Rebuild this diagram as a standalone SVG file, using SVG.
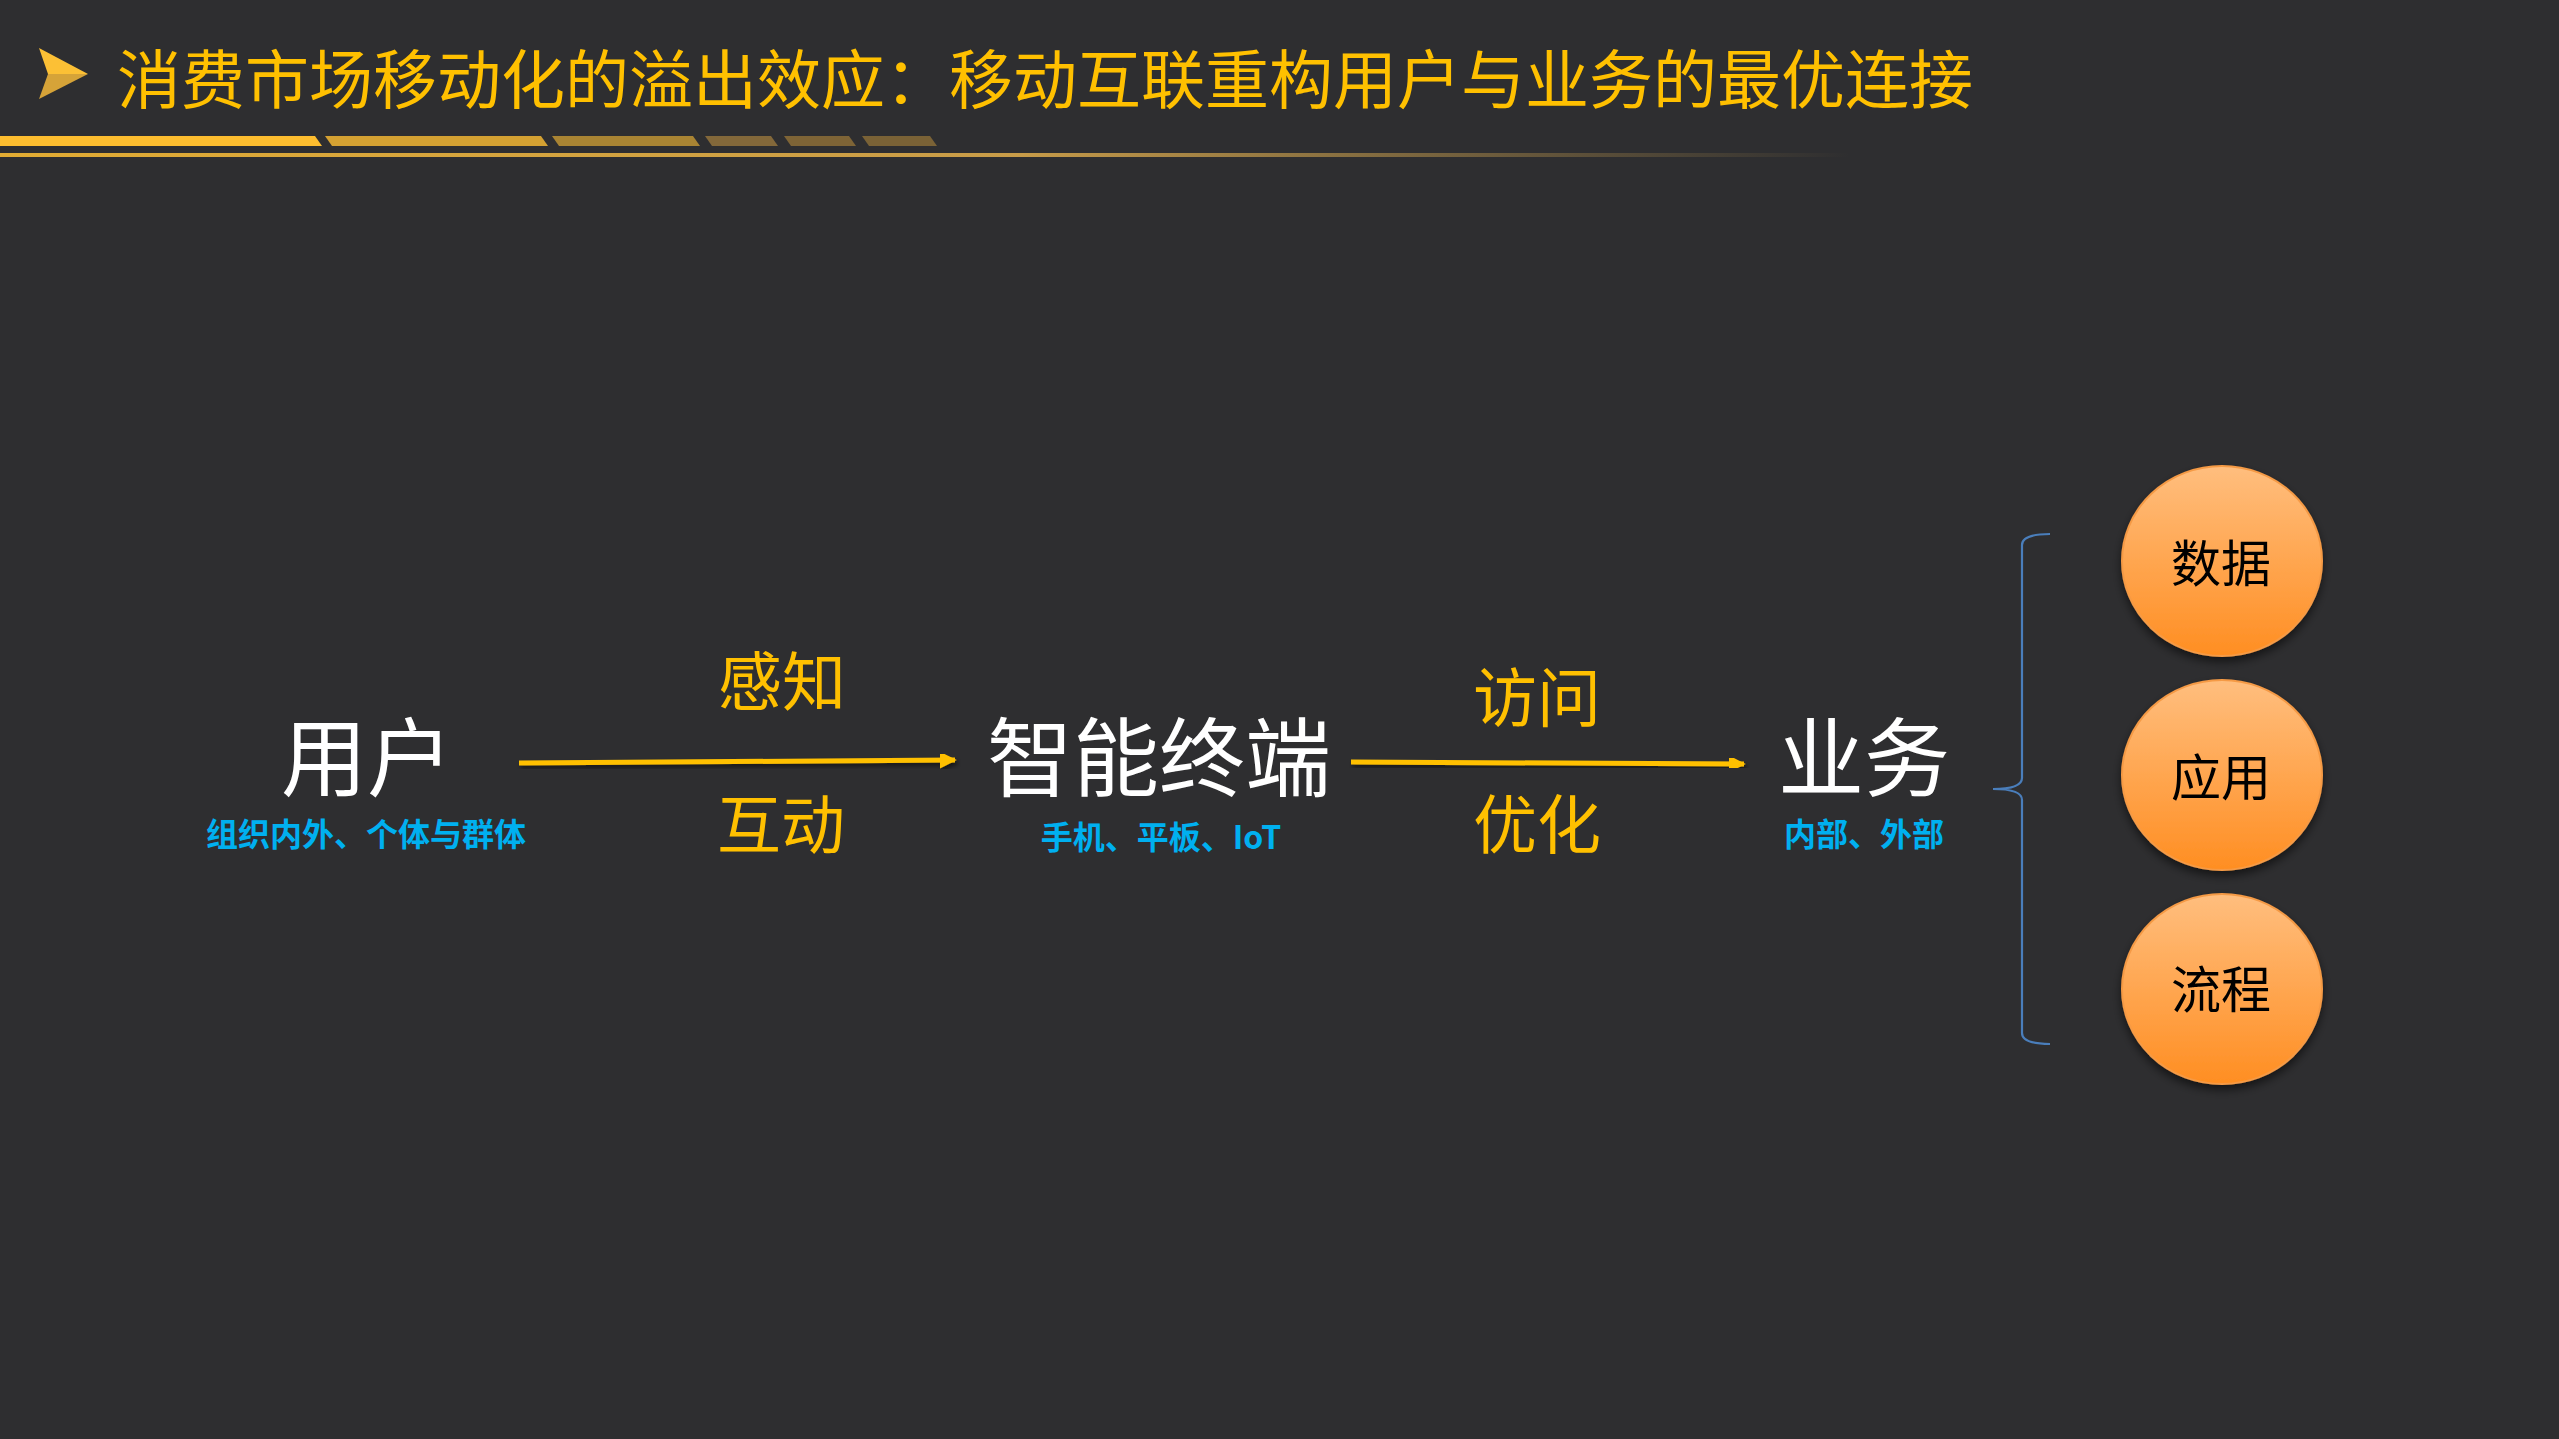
<svg xmlns="http://www.w3.org/2000/svg" width="2559" height="1439" viewBox="0 0 2559 1439">
<style>
.title{font-family:"Noto Sans CJK SC","Liberation Sans",sans-serif;font-size:64px;fill:#FFC000;}
.main{font-family:"Noto Sans CJK SC","Liberation Sans",sans-serif;font-size:86px;fill:#FFFFFF;text-anchor:middle;}
.sub{font-family:"Noto Sans CJK SC","Liberation Sans",sans-serif;font-size:32px;font-weight:bold;fill:#00B0F0;text-anchor:middle;}
.lbl{font-family:"Noto Sans CJK SC","Liberation Sans",sans-serif;font-size:64px;fill:#FFC000;text-anchor:middle;}
.ctext{font-family:"Noto Sans CJK SC","Liberation Sans",sans-serif;font-size:50px;fill:#000000;text-anchor:middle;}
.conn{stroke:#FFC000;stroke-width:5;fill:none;marker-end:url(#ah);}
.ell{fill:url(#og);stroke:#F59A45;stroke-width:2;filter:url(#sh);}
</style>
<defs>
<marker id="ah" viewBox="0 0 10 10" refX="9" refY="5" markerWidth="3.4" markerHeight="3.4" orient="auto" markerUnits="strokeWidth">
<path d="M0,0 L10,5 L0,10 Z" fill="#FFC000"/>
</marker>
<linearGradient id="og" x1="0" y1="0" x2="0" y2="1">
<stop offset="0" stop-color="#FFBE7E"/>
<stop offset="1" stop-color="#FF8E22"/>
</linearGradient>
<linearGradient id="gl" x1="0" y1="0" x2="1850" y2="0" gradientUnits="userSpaceOnUse">
<stop offset="0" stop-color="#E2AC33"/>
<stop offset="0.55" stop-color="#D0A24A" stop-opacity="0.95"/>
<stop offset="1" stop-color="#C09A50" stop-opacity="0"/>
</linearGradient>
<filter id="sh" x="-30%" y="-30%" width="160%" height="170%">
<feGaussianBlur in="SourceAlpha" stdDeviation="5"/>
<feOffset dx="0" dy="5" result="b"/>
<feComponentTransfer><feFuncA type="linear" slope="0.55"/></feComponentTransfer>
<feMerge><feMergeNode/><feMergeNode in="SourceGraphic"/></feMerge>
</filter>
<filter id="ls" x="-5%" y="-200%" width="110%" height="500%">
<feGaussianBlur in="SourceAlpha" stdDeviation="2"/>
<feOffset dx="2" dy="3"/>
<feComponentTransfer><feFuncA type="linear" slope="0.5"/></feComponentTransfer>
<feMerge><feMergeNode/><feMergeNode in="SourceGraphic"/></feMerge>
</filter>
</defs>
<rect x="0" y="0" width="2559" height="1439" fill="#2E2E30"/>

<g id="header">
<polygon points="39,48 88,74 48,74" fill="#FCC035"/>
<polygon points="48,74 88,74 39,99" fill="#D6A338"/>
<text class="title" x="117" y="103">消费市场移动化的溢出效应：移动互联重构用户与业务的最优连接</text>
<polygon points="0,136 315,136 322,146 0,146" fill="#FDBD2F"/>
<polygon points="325,136 541,136 548,146 332,146" fill="#D4A132"/>
<polygon points="552,136 693,136 700,146 559,146" fill="#A98433"/>
<polygon points="705,136 771,136 778,146 712,146" fill="#83683A"/>
<polygon points="784,136 849,136 856,146 791,146" fill="#7E6436"/>
<polygon points="862,136 930,136 937,146 869,146" fill="#7A6236"/>
<rect x="0" y="153" width="1850" height="4" fill="url(#gl)"/>
</g>

<g id="connectors">
<line class="conn" x1="519" y1="763" x2="955" y2="760" filter="url(#ls)"/>
<line class="conn" x1="1351" y1="762" x2="1744" y2="764" filter="url(#ls)"/>
<path d="M2050,534 Q2022,534 2022,545 L2022,778 Q2022,789 1993,789 Q2022,789 2022,800 L2022,1033 Q2022,1044 2050,1044" fill="none" stroke="#4A7EBB" stroke-width="2.2"/>
<text class="lbl" x="782" y="705">感知</text>
<text class="lbl" x="781" y="848">互动</text>
<text class="lbl" x="1537" y="721">访问</text>
<text class="lbl" x="1537" y="848">优化</text>
</g>

<g id="node-user">
<text class="main" x="367" y="790">用户</text>
<text class="sub" x="366" y="846">组织内外、个体与群体</text>
</g>
<g id="node-terminal">
<text class="main" x="1159" y="790">智能终端</text>
<text class="sub" x="1161" y="849">手机、平板、IoT</text>
</g>
<g id="node-business">
<text class="main" x="1864" y="790">业务</text>
<text class="sub" x="1864" y="846">内部、外部</text>
</g>
<g id="node-data">
<ellipse class="ell" cx="2222" cy="561" rx="100" ry="95"/>
<text class="ctext" x="2221" y="582">数据</text>
</g>
<g id="node-app">
<ellipse class="ell" cx="2222" cy="775" rx="100" ry="95"/>
<text class="ctext" x="2221" y="796">应用</text>
</g>
<g id="node-process">
<ellipse class="ell" cx="2222" cy="989" rx="100" ry="95"/>
<text class="ctext" x="2221" y="1008">流程</text>
</g>
</svg>
